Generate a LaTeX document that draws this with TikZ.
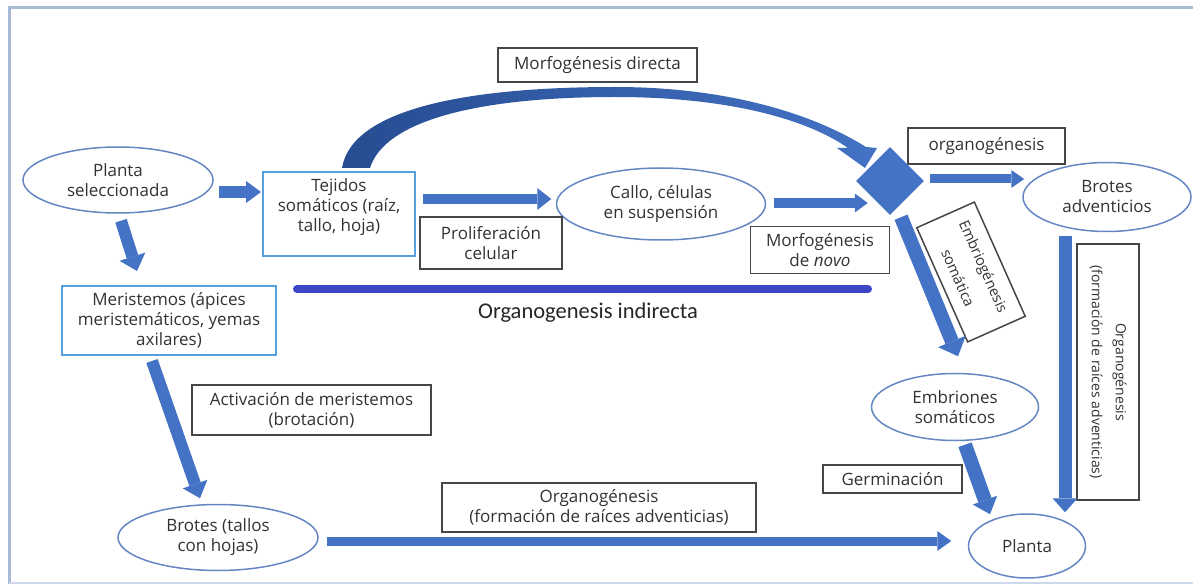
\documentclass[tikz,border=0pt]{standalone}
\usepackage{fontspec}
\setmainfont{Open Sans}
\newfontfamily\calfont{Carlito}
\usetikzlibrary{arrows.meta,shapes.geometric,calc}
\definecolor{ablue}{RGB}{68,114,196}
\definecolor{adark}{RGB}{38,76,145}
\definecolor{ellcol}{RGB}{100,135,195}
\definecolor{boxblue}{RGB}{85,160,225}
\definecolor{txtcol}{RGB}{50,50,50}
\definecolor{lbox}{RGB}{70,70,70}
\definecolor{barcol}{RGB}{62,70,200}
\definecolor{framecol}{RGB}{168,186,214}
\definecolor{framelt}{RGB}{205,216,234}
\begin{document}
\begin{tikzpicture}[x=1pt,y=-1pt,
  txt/.style={font=\fontsize{17}{20}\selectfont, text=txtcol, align=center},
  ell/.style={ellipse, draw=ellcol, line width=1.5pt, inner sep=0pt, txt},
  bbox/.style={rectangle, draw=boxblue, line width=2pt, inner sep=0pt, txt},
  lbl/.style={rectangle, draw=lbox, line width=1.5pt, inner sep=0pt, txt},
  blk/.style n args={3}{draw=ablue, line width=#1, -{Triangle[width=#2,length=#3,line width=0pt]}}
]
\useasboundingbox (0,0) rectangle (1193,585);
% frame
\draw[framecol, line width=3pt] (1200,8) -- (9,8) -- (9,584);
\draw[framelt, line width=2pt] (9,583) -- (1200,583);

% nodes
\node[ell, minimum width=190pt, minimum height=66pt] (ps) at (118,180) {Planta\\seleccionada};
\node[bbox, minimum width=152pt, minimum height=84pt] (tej) at (339,214) {};
\node[txt] (tejt) at (339,207) {Tejidos\\somáticos (raíz,\\tallo, hoja)};
\node[ell, minimum width=209pt, minimum height=72pt] (cal) at (661,204) {Callo, células\\en suspensión};
\node[lbl, minimum width=142pt, minimum height=52pt] (prol) at (491,243) {Proliferación\\celular};
\node[lbl, minimum width=139pt, minimum height=47pt] (mdn) at (820,250) {Morfogénesis\\de \textit{novo}};
\node[lbl, minimum width=199pt, minimum height=34pt] (mdir) at (597.5,65) {Morfogénesis directa};
\node[diamond, fill=ablue, minimum width=68pt, minimum height=68pt, inner sep=0pt] (dia) at (890,181) {};
\node[lbl, minimum width=157pt, minimum height=36pt] (org) at (986.5,146) {organogénesis};
\node[ell, minimum width=168pt, minimum height=69pt] (bad) at (1107,197) {Brotes\\adventicios};
\node[lbl, rotate=-66, minimum width=125pt, minimum height=63pt, font=\fontsize{14.5}{24}\selectfont] (embl) at (971,272) {Embriogénesis\\[4pt]somática};
\node[ell, minimum width=167pt, minimum height=67pt] (emb) at (955,407) {Embriones\\somáticos};
\node[lbl, minimum width=139pt, minimum height=28pt] (germ) at (892.5,479) {Germinación};
\node[ell, minimum width=117pt, minimum height=64pt] (pl) at (1027,546) {Planta};
\node[lbl, rotate=-90, minimum width=256pt, minimum height=62pt, font=\fontsize{14}{24}\selectfont] (orgv) at (1108,372) {Organogénesis\\(formación de raíces adventicias)};
\node[bbox, minimum width=214pt, minimum height=69pt] (mer) at (169,320.5) {Meristemos (ápices\\meristemáticos, yemas\\axilares)};
\node[lbl, minimum width=239pt, minimum height=50pt] (act) at (311.5,410) {Activación de meristemos\\(brotación)};
\node[ell, minimum width=200pt, minimum height=66pt] (bro) at (218,537.5) {Brotes (tallos\\con hojas)};
\node[lbl, minimum width=314pt, minimum height=49pt] (orgb) at (599,507.5) {Organogénesis\\(formación de raíces adventicias)};

% indirect organogenesis bar
\coordinate (barL) at (297,289);
\coordinate (barR) at (868,289);
\draw[barcol, line width=8pt, line cap=round] (barL) -- (barR);
\node[font=\calfont\fontsize{22.5}{26}\selectfont, text=black!85] (oi) at (588,313) {Organogenesis indirecta};

% curved arrow (morfogenesis directa)
\shade[left color=adark, right color=ablue]
  (342,168) .. controls (352,108) and (470,87) .. (615,87)
  .. controls (730,87) and (815,115) .. (866,147)
  -- (877,148) -- (865,168) -- (837,148) -- (848,148)
  .. controls (805,118) and (725,97) .. (615,97)
  .. controls (480,97) and (385,120) .. (370,168) -- cycle;

% block arrows
\draw[blk={12pt}{22pt}{15pt}] ($(ps.east)+(5,12)$) -- ($(tej.west)+(-1,-22)$);
\draw[blk={12pt}{27pt}{15pt}] ($(ps.south)+(3,7)$) -- ($(mer.north)+(-32,-14)$);
\draw[blk={10pt}{22pt}{14pt}] ($(tej.east)+(7,-15)$) -- ($(cal.west)+(-4.5,-5)$);
\draw[blk={10pt}{19pt}{13pt}] ($(cal.east)+(7.5,-1)$) -- ($(dia.west)+(12,22)$);
\draw[blk={9pt}{18pt}{13pt}] ($(dia.east)+(6,-2)$) -- ($(bad.west)+(2,-18)$);
\draw[blk={14pt}{30pt}{16pt}] ($(dia.south)+(11,2)$) -- ($(emb.north)+(3,-16.5)$);
\draw[blk={12pt}{26pt}{15pt}] ($(mer.south)+(-17,5)$) -- ($(bro.north)+(-18,-5.5)$);
\draw[blk={9pt}{20pt}{14pt}] ($(bro.east)+(8,3.5)$) -- ($(pl.west)+(-16.5,-5)$);
\draw[blk={14pt}{26pt}{15pt}] ($(emb.south)+(10,3.5)$) -- ($(pl.north)+(-37,1)$);
\draw[blk={13pt}{25pt}{14pt}] ($(bad.south)+(-42,3.5)$) -- ($(pl.north)+(38,-1)$);
\end{tikzpicture}
\end{document}
